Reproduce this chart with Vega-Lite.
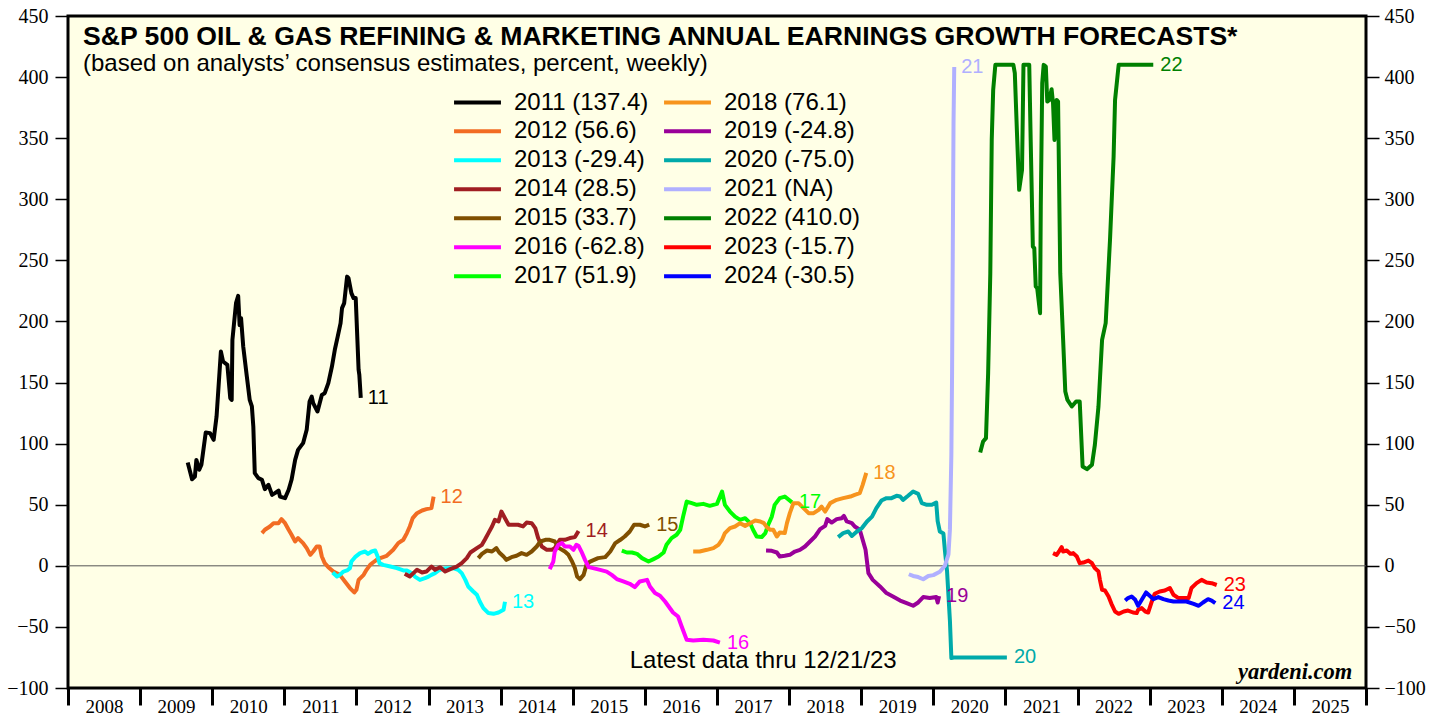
{
  "$schema": "https://vega.github.io/schema/vega-lite/v6.json",
  "width": 1298,
  "height": 672,
  "autosize": {"type": "none"},
  "padding": {"left": 68, "top": 16, "right": 73, "bottom": 29},
  "background": "#FFFFFF",
  "config": {
    "view": {"fill": "#FFFFE6", "stroke": "#000000", "strokeWidth": 3},
    "font": "Liberation Sans"
  },
  "title": {
    "text": "S&P 500 OIL & GAS REFINING & MARKETING ANNUAL EARNINGS GROWTH FORECASTS*",
    "subtitle": "(based on analysts’ consensus estimates, percent, weekly)",
    "anchor": "start", "frame": "group", "orient": "top", "offset": -70, "dx": 15,
    "font": "Liberation Sans", "fontSize": 26.6, "fontWeight": "bold", "color": "#000000",
    "subtitleFont": "Liberation Sans", "subtitleFontSize": 24, "subtitleColor": "#000000", "subtitlePadding": 1
  },
  "datasets": {
    "d": [
{"s":"2011 (137.4)","t":2009.66,"v":84.5},{"s":"2011 (137.4)","t":2009.72,"v":70.9},{"s":"2011 (137.4)","t":2009.76,"v":73.1},{"s":"2011 (137.4)","t":2009.78,"v":86.7},{"s":"2011 (137.4)","t":2009.82,"v":78.6},{"s":"2011 (137.4)","t":2009.85,"v":82.7},{"s":"2011 (137.4)","t":2009.91,"v":109.1},{"s":"2011 (137.4)","t":2009.97,"v":108.6},{"s":"2011 (137.4)","t":2010.02,"v":103.1},{"s":"2011 (137.4)","t":2010.06,"v":122.2},{"s":"2011 (137.4)","t":2010.12,"v":175.4},{"s":"2011 (137.4)","t":2010.15,"v":167.2},{"s":"2011 (137.4)","t":2010.21,"v":164.5},{"s":"2011 (137.4)","t":2010.25,"v":137.2},{"s":"2011 (137.4)","t":2010.27,"v":135.8},{"s":"2011 (137.4)","t":2010.28,"v":184.9},{"s":"2011 (137.4)","t":2010.33,"v":215},{"s":"2011 (137.4)","t":2010.36,"v":221},{"s":"2011 (137.4)","t":2010.38,"v":197},{"s":"2011 (137.4)","t":2010.40,"v":202.7},{"s":"2011 (137.4)","t":2010.43,"v":179.5},{"s":"2011 (137.4)","t":2010.48,"v":154.9},{"s":"2011 (137.4)","t":2010.52,"v":135.8},{"s":"2011 (137.4)","t":2010.55,"v":130.4},{"s":"2011 (137.4)","t":2010.57,"v":114},{"s":"2011 (137.4)","t":2010.59,"v":75.9},{"s":"2011 (137.4)","t":2010.64,"v":71.8},{"s":"2011 (137.4)","t":2010.69,"v":70.4},{"s":"2011 (137.4)","t":2010.73,"v":62.8},{"s":"2011 (137.4)","t":2010.78,"v":66.3},{"s":"2011 (137.4)","t":2010.83,"v":58.1},{"s":"2011 (137.4)","t":2010.87,"v":59.5},{"s":"2011 (137.4)","t":2010.92,"v":61.6},{"s":"2011 (137.4)","t":2010.94,"v":56.7},{"s":"2011 (137.4)","t":2011.01,"v":55.4},{"s":"2011 (137.4)","t":2011.06,"v":62.2},{"s":"2011 (137.4)","t":2011.10,"v":70.4},{"s":"2011 (137.4)","t":2011.15,"v":86.7},{"s":"2011 (137.4)","t":2011.19,"v":94.9},{"s":"2011 (137.4)","t":2011.26,"v":100.4},{"s":"2011 (137.4)","t":2011.31,"v":111.3},{"s":"2011 (137.4)","t":2011.35,"v":134.5},{"s":"2011 (137.4)","t":2011.38,"v":138.5},{"s":"2011 (137.4)","t":2011.40,"v":133.1},{"s":"2011 (137.4)","t":2011.46,"v":126.3},{"s":"2011 (137.4)","t":2011.52,"v":139.9},{"s":"2011 (137.4)","t":2011.56,"v":141.3},{"s":"2011 (137.4)","t":2011.61,"v":149.5},{"s":"2011 (137.4)","t":2011.66,"v":163.1},{"s":"2011 (137.4)","t":2011.70,"v":176.8},{"s":"2011 (137.4)","t":2011.74,"v":187.6},{"s":"2011 (137.4)","t":2011.78,"v":198.6},{"s":"2011 (137.4)","t":2011.80,"v":210.9},{"s":"2011 (137.4)","t":2011.83,"v":215},{"s":"2011 (137.4)","t":2011.87,"v":236.7},{"s":"2011 (137.4)","t":2011.89,"v":235.4},{"s":"2011 (137.4)","t":2011.93,"v":223.2},{"s":"2011 (137.4)","t":2011.96,"v":219.1},{"s":"2011 (137.4)","t":2011.99,"v":219.1},{"s":"2011 (137.4)","t":2012.03,"v":160.4},{"s":"2011 (137.4)","t":2012.04,"v":156.3},{"s":"2011 (137.4)","t":2012.06,"v":137.4},
{"s":"2012 (56.6)","t":2010.69,"v":26.8},{"s":"2012 (56.6)","t":2010.73,"v":29.5},{"s":"2012 (56.6)","t":2010.80,"v":32.2},{"s":"2012 (56.6)","t":2010.85,"v":34.9},{"s":"2012 (56.6)","t":2010.92,"v":34.9},{"s":"2012 (56.6)","t":2010.96,"v":38.2},{"s":"2012 (56.6)","t":2011.01,"v":34.9},{"s":"2012 (56.6)","t":2011.06,"v":29.5},{"s":"2012 (56.6)","t":2011.10,"v":25.4},{"s":"2012 (56.6)","t":2011.15,"v":19.9},{"s":"2012 (56.6)","t":2011.19,"v":22.7},{"s":"2012 (56.6)","t":2011.26,"v":18.6},{"s":"2012 (56.6)","t":2011.31,"v":14.5},{"s":"2012 (56.6)","t":2011.36,"v":9},{"s":"2012 (56.6)","t":2011.40,"v":11.7},{"s":"2012 (56.6)","t":2011.45,"v":15.8},{"s":"2012 (56.6)","t":2011.49,"v":15.8},{"s":"2012 (56.6)","t":2011.52,"v":7.6},{"s":"2012 (56.6)","t":2011.56,"v":2.2},{"s":"2012 (56.6)","t":2011.61,"v":-1.1},{"s":"2012 (56.6)","t":2011.68,"v":-4.7},{"s":"2012 (56.6)","t":2011.77,"v":-7.4},{"s":"2012 (56.6)","t":2011.84,"v":-12.8},{"s":"2012 (56.6)","t":2011.91,"v":-18.2},{"s":"2012 (56.6)","t":2011.97,"v":-21.8},{"s":"2012 (56.6)","t":2012.00,"v":-19.6},{"s":"2012 (56.6)","t":2012.03,"v":-11.5},{"s":"2012 (56.6)","t":2012.10,"v":-7.4},{"s":"2012 (56.6)","t":2012.14,"v":-3.3},{"s":"2012 (56.6)","t":2012.19,"v":0.8},{"s":"2012 (56.6)","t":2012.23,"v":2.7},{"s":"2012 (56.6)","t":2012.28,"v":4.9},{"s":"2012 (56.6)","t":2012.33,"v":6.3},{"s":"2012 (56.6)","t":2012.42,"v":8.2},{"s":"2012 (56.6)","t":2012.51,"v":13.1},{"s":"2012 (56.6)","t":2012.58,"v":18.6},{"s":"2012 (56.6)","t":2012.65,"v":21.3},{"s":"2012 (56.6)","t":2012.70,"v":26.8},{"s":"2012 (56.6)","t":2012.74,"v":32.2},{"s":"2012 (56.6)","t":2012.78,"v":39},{"s":"2012 (56.6)","t":2012.84,"v":43.1},{"s":"2012 (56.6)","t":2012.91,"v":45.3},{"s":"2012 (56.6)","t":2012.97,"v":46.4},{"s":"2012 (56.6)","t":2013.04,"v":47.2},{"s":"2012 (56.6)","t":2013.07,"v":56.6},
{"s":"2013 (-29.4)","t":2011.67,"v":-5.5},{"s":"2013 (-29.4)","t":2011.73,"v":-8.8},{"s":"2013 (-29.4)","t":2011.77,"v":-7.4},{"s":"2013 (-29.4)","t":2011.82,"v":-4.7},{"s":"2013 (-29.4)","t":2011.87,"v":-3.8},{"s":"2013 (-29.4)","t":2011.91,"v":-1.9},{"s":"2013 (-29.4)","t":2011.93,"v":3.5},{"s":"2013 (-29.4)","t":2011.98,"v":7.1},{"s":"2013 (-29.4)","t":2012.05,"v":10.4},{"s":"2013 (-29.4)","t":2012.12,"v":11.7},{"s":"2013 (-29.4)","t":2012.16,"v":9.8},{"s":"2013 (-29.4)","t":2012.21,"v":11.7},{"s":"2013 (-29.4)","t":2012.26,"v":12.5},{"s":"2013 (-29.4)","t":2012.29,"v":8.2},{"s":"2013 (-29.4)","t":2012.32,"v":2.2},{"s":"2013 (-29.4)","t":2012.37,"v":0.8},{"s":"2013 (-29.4)","t":2012.47,"v":-0.6},{"s":"2013 (-29.4)","t":2012.56,"v":-1.9},{"s":"2013 (-29.4)","t":2012.65,"v":-3.8},{"s":"2013 (-29.4)","t":2012.70,"v":-3.8},{"s":"2013 (-29.4)","t":2012.77,"v":-6},{"s":"2013 (-29.4)","t":2012.81,"v":-8.8},{"s":"2013 (-29.4)","t":2012.88,"v":-11.5},{"s":"2013 (-29.4)","t":2012.95,"v":-10.1},{"s":"2013 (-29.4)","t":2013.00,"v":-8.8},{"s":"2013 (-29.4)","t":2013.04,"v":-7.4},{"s":"2013 (-29.4)","t":2013.09,"v":-6},{"s":"2013 (-29.4)","t":2013.14,"v":-3.8},{"s":"2013 (-29.4)","t":2013.18,"v":-2.7},{"s":"2013 (-29.4)","t":2013.25,"v":-1.9},{"s":"2013 (-29.4)","t":2013.34,"v":-1.9},{"s":"2013 (-29.4)","t":2013.41,"v":-3.3},{"s":"2013 (-29.4)","t":2013.46,"v":-6},{"s":"2013 (-29.4)","t":2013.51,"v":-11.5},{"s":"2013 (-29.4)","t":2013.55,"v":-16.9},{"s":"2013 (-29.4)","t":2013.62,"v":-21},{"s":"2013 (-29.4)","t":2013.67,"v":-23.7},{"s":"2013 (-29.4)","t":2013.71,"v":-29.2},{"s":"2013 (-29.4)","t":2013.76,"v":-34.6},{"s":"2013 (-29.4)","t":2013.83,"v":-38.7},{"s":"2013 (-29.4)","t":2013.90,"v":-39.3},{"s":"2013 (-29.4)","t":2013.97,"v":-38.2},{"s":"2013 (-29.4)","t":2014.04,"v":-36},{"s":"2013 (-29.4)","t":2014.06,"v":-29.4},
{"s":"2014 (28.5)","t":2012.67,"v":-6.5},{"s":"2014 (28.5)","t":2012.74,"v":-8.8},{"s":"2014 (28.5)","t":2012.79,"v":-6},{"s":"2014 (28.5)","t":2012.84,"v":-3.3},{"s":"2014 (28.5)","t":2012.91,"v":-5.5},{"s":"2014 (28.5)","t":2012.97,"v":-4.7},{"s":"2014 (28.5)","t":2013.04,"v":-0.6},{"s":"2014 (28.5)","t":2013.09,"v":-3.3},{"s":"2014 (28.5)","t":2013.16,"v":-1.1},{"s":"2014 (28.5)","t":2013.23,"v":-4.7},{"s":"2014 (28.5)","t":2013.30,"v":-2.7},{"s":"2014 (28.5)","t":2013.39,"v":-0.6},{"s":"2014 (28.5)","t":2013.46,"v":2.2},{"s":"2014 (28.5)","t":2013.53,"v":6.3},{"s":"2014 (28.5)","t":2013.58,"v":10.9},{"s":"2014 (28.5)","t":2013.67,"v":14.5},{"s":"2014 (28.5)","t":2013.74,"v":17.2},{"s":"2014 (28.5)","t":2013.78,"v":21.3},{"s":"2014 (28.5)","t":2013.83,"v":26.8},{"s":"2014 (28.5)","t":2013.88,"v":32.2},{"s":"2014 (28.5)","t":2013.92,"v":37.6},{"s":"2014 (28.5)","t":2013.97,"v":36.3},{"s":"2014 (28.5)","t":2014.01,"v":44.4},{"s":"2014 (28.5)","t":2014.06,"v":39},{"s":"2014 (28.5)","t":2014.11,"v":33.6},{"s":"2014 (28.5)","t":2014.18,"v":33.6},{"s":"2014 (28.5)","t":2014.24,"v":33.6},{"s":"2014 (28.5)","t":2014.31,"v":32.2},{"s":"2014 (28.5)","t":2014.36,"v":35.4},{"s":"2014 (28.5)","t":2014.43,"v":34.9},{"s":"2014 (28.5)","t":2014.48,"v":30.9},{"s":"2014 (28.5)","t":2014.52,"v":22.7},{"s":"2014 (28.5)","t":2014.57,"v":15.8},{"s":"2014 (28.5)","t":2014.64,"v":13.1},{"s":"2014 (28.5)","t":2014.71,"v":13.1},{"s":"2014 (28.5)","t":2014.75,"v":14.5},{"s":"2014 (28.5)","t":2014.82,"v":21.3},{"s":"2014 (28.5)","t":2014.89,"v":21.3},{"s":"2014 (28.5)","t":2014.96,"v":22.7},{"s":"2014 (28.5)","t":2015.03,"v":23.5},{"s":"2014 (28.5)","t":2015.08,"v":28.5},
{"s":"2015 (33.7)","t":2013.69,"v":6.3},{"s":"2015 (33.7)","t":2013.74,"v":9.8},{"s":"2015 (33.7)","t":2013.81,"v":12.5},{"s":"2015 (33.7)","t":2013.88,"v":11.7},{"s":"2015 (33.7)","t":2013.94,"v":14.5},{"s":"2015 (33.7)","t":2013.98,"v":10.9},{"s":"2015 (33.7)","t":2014.04,"v":7.6},{"s":"2015 (33.7)","t":2014.08,"v":4.9},{"s":"2015 (33.7)","t":2014.15,"v":7.1},{"s":"2015 (33.7)","t":2014.22,"v":8.2},{"s":"2015 (33.7)","t":2014.29,"v":10.4},{"s":"2015 (33.7)","t":2014.36,"v":9},{"s":"2015 (33.7)","t":2014.43,"v":11.7},{"s":"2015 (33.7)","t":2014.50,"v":15.8},{"s":"2015 (33.7)","t":2014.55,"v":19.9},{"s":"2015 (33.7)","t":2014.62,"v":21.3},{"s":"2015 (33.7)","t":2014.68,"v":21.3},{"s":"2015 (33.7)","t":2014.75,"v":19.9},{"s":"2015 (33.7)","t":2014.81,"v":14.5},{"s":"2015 (33.7)","t":2014.89,"v":11.7},{"s":"2015 (33.7)","t":2014.94,"v":9},{"s":"2015 (33.7)","t":2014.99,"v":3.5},{"s":"2015 (33.7)","t":2015.03,"v":-1.9},{"s":"2015 (33.7)","t":2015.06,"v":-8.8},{"s":"2015 (33.7)","t":2015.10,"v":-10.9},{"s":"2015 (33.7)","t":2015.15,"v":-7.4},{"s":"2015 (33.7)","t":2015.19,"v":0.8},{"s":"2015 (33.7)","t":2015.24,"v":3.5},{"s":"2015 (33.7)","t":2015.35,"v":6.3},{"s":"2015 (33.7)","t":2015.45,"v":7.1},{"s":"2015 (33.7)","t":2015.52,"v":11.7},{"s":"2015 (33.7)","t":2015.59,"v":18.6},{"s":"2015 (33.7)","t":2015.66,"v":21.3},{"s":"2015 (33.7)","t":2015.72,"v":24},{"s":"2015 (33.7)","t":2015.79,"v":28.1},{"s":"2015 (33.7)","t":2015.85,"v":33.6},{"s":"2015 (33.7)","t":2015.93,"v":33.6},{"s":"2015 (33.7)","t":2016.00,"v":32.2},{"s":"2015 (33.7)","t":2016.06,"v":33.7},
{"s":"2016 (-62.8)","t":2014.68,"v":-2.7},{"s":"2016 (-62.8)","t":2014.73,"v":3.5},{"s":"2016 (-62.8)","t":2014.75,"v":11.7},{"s":"2016 (-62.8)","t":2014.80,"v":17.2},{"s":"2016 (-62.8)","t":2014.85,"v":18.6},{"s":"2016 (-62.8)","t":2014.89,"v":15.8},{"s":"2016 (-62.8)","t":2014.96,"v":15.8},{"s":"2016 (-62.8)","t":2015.01,"v":13.1},{"s":"2016 (-62.8)","t":2015.05,"v":17.2},{"s":"2016 (-62.8)","t":2015.08,"v":16.4},{"s":"2016 (-62.8)","t":2015.12,"v":11.7},{"s":"2016 (-62.8)","t":2015.17,"v":4.9},{"s":"2016 (-62.8)","t":2015.22,"v":-1.1},{"s":"2016 (-62.8)","t":2015.28,"v":-1.9},{"s":"2016 (-62.8)","t":2015.38,"v":-3.3},{"s":"2016 (-62.8)","t":2015.47,"v":-4.7},{"s":"2016 (-62.8)","t":2015.54,"v":-7.4},{"s":"2016 (-62.8)","t":2015.61,"v":-10.8},{"s":"2016 (-62.8)","t":2015.70,"v":-12.8},{"s":"2016 (-62.8)","t":2015.79,"v":-14.7},{"s":"2016 (-62.8)","t":2015.86,"v":-17.4},{"s":"2016 (-62.8)","t":2015.93,"v":-12.8},{"s":"2016 (-62.8)","t":2016.03,"v":-11.5},{"s":"2016 (-62.8)","t":2016.07,"v":-16.9},{"s":"2016 (-62.8)","t":2016.14,"v":-22.3},{"s":"2016 (-62.8)","t":2016.21,"v":-24.5},{"s":"2016 (-62.8)","t":2016.28,"v":-29.2},{"s":"2016 (-62.8)","t":2016.33,"v":-33.3},{"s":"2016 (-62.8)","t":2016.39,"v":-38.2},{"s":"2016 (-62.8)","t":2016.46,"v":-41.5},{"s":"2016 (-62.8)","t":2016.51,"v":-49.7},{"s":"2016 (-62.8)","t":2016.58,"v":-60.6},{"s":"2016 (-62.8)","t":2016.67,"v":-61.1},{"s":"2016 (-62.8)","t":2016.81,"v":-60.6},{"s":"2016 (-62.8)","t":2016.95,"v":-61.1},{"s":"2016 (-62.8)","t":2017.04,"v":-62.8},
{"s":"2017 (51.9)","t":2015.68,"v":12.5},{"s":"2017 (51.9)","t":2015.75,"v":10.9},{"s":"2017 (51.9)","t":2015.82,"v":10.9},{"s":"2017 (51.9)","t":2015.89,"v":9.8},{"s":"2017 (51.9)","t":2015.96,"v":6.3},{"s":"2017 (51.9)","t":2016.05,"v":3.5},{"s":"2017 (51.9)","t":2016.12,"v":5.5},{"s":"2017 (51.9)","t":2016.19,"v":7.6},{"s":"2017 (51.9)","t":2016.26,"v":10.9},{"s":"2017 (51.9)","t":2016.30,"v":17.2},{"s":"2017 (51.9)","t":2016.37,"v":22.7},{"s":"2017 (51.9)","t":2016.44,"v":25.4},{"s":"2017 (51.9)","t":2016.49,"v":29.5},{"s":"2017 (51.9)","t":2016.53,"v":40.3},{"s":"2017 (51.9)","t":2016.58,"v":52.6},{"s":"2017 (51.9)","t":2016.65,"v":51.3},{"s":"2017 (51.9)","t":2016.72,"v":49.9},{"s":"2017 (51.9)","t":2016.81,"v":50.7},{"s":"2017 (51.9)","t":2016.90,"v":49.1},{"s":"2017 (51.9)","t":2017.00,"v":50.7},{"s":"2017 (51.9)","t":2017.07,"v":60.8},{"s":"2017 (51.9)","t":2017.11,"v":49.9},{"s":"2017 (51.9)","t":2017.18,"v":44.4},{"s":"2017 (51.9)","t":2017.25,"v":40.3},{"s":"2017 (51.9)","t":2017.32,"v":37.6},{"s":"2017 (51.9)","t":2017.39,"v":39},{"s":"2017 (51.9)","t":2017.46,"v":34.9},{"s":"2017 (51.9)","t":2017.50,"v":29.5},{"s":"2017 (51.9)","t":2017.55,"v":24},{"s":"2017 (51.9)","t":2017.62,"v":23.5},{"s":"2017 (51.9)","t":2017.67,"v":26.8},{"s":"2017 (51.9)","t":2017.71,"v":33.6},{"s":"2017 (51.9)","t":2017.76,"v":40.3},{"s":"2017 (51.9)","t":2017.80,"v":49.9},{"s":"2017 (51.9)","t":2017.87,"v":55.4},{"s":"2017 (51.9)","t":2017.94,"v":56.7},{"s":"2017 (51.9)","t":2018.04,"v":51.9},
{"s":"2018 (76.1)","t":2016.67,"v":11.7},{"s":"2018 (76.1)","t":2016.76,"v":11.7},{"s":"2018 (76.1)","t":2016.86,"v":13.1},{"s":"2018 (76.1)","t":2016.95,"v":14.5},{"s":"2018 (76.1)","t":2017.02,"v":17.2},{"s":"2018 (76.1)","t":2017.07,"v":21.3},{"s":"2018 (76.1)","t":2017.11,"v":26.8},{"s":"2018 (76.1)","t":2017.18,"v":30.9},{"s":"2018 (76.1)","t":2017.25,"v":32.2},{"s":"2018 (76.1)","t":2017.32,"v":34.9},{"s":"2018 (76.1)","t":2017.39,"v":32.7},{"s":"2018 (76.1)","t":2017.46,"v":34.9},{"s":"2018 (76.1)","t":2017.53,"v":37.1},{"s":"2018 (76.1)","t":2017.60,"v":36.3},{"s":"2018 (76.1)","t":2017.65,"v":34.9},{"s":"2018 (76.1)","t":2017.69,"v":31.7},{"s":"2018 (76.1)","t":2017.74,"v":29.5},{"s":"2018 (76.1)","t":2017.78,"v":29.5},{"s":"2018 (76.1)","t":2017.83,"v":24},{"s":"2018 (76.1)","t":2017.87,"v":27.3},{"s":"2018 (76.1)","t":2017.94,"v":26.8},{"s":"2018 (76.1)","t":2017.97,"v":34.9},{"s":"2018 (76.1)","t":2018.01,"v":43.1},{"s":"2018 (76.1)","t":2018.06,"v":51.3},{"s":"2018 (76.1)","t":2018.13,"v":51.3},{"s":"2018 (76.1)","t":2018.20,"v":47.2},{"s":"2018 (76.1)","t":2018.27,"v":43.1},{"s":"2018 (76.1)","t":2018.34,"v":43.1},{"s":"2018 (76.1)","t":2018.41,"v":45.8},{"s":"2018 (76.1)","t":2018.45,"v":48.5},{"s":"2018 (76.1)","t":2018.50,"v":44.4},{"s":"2018 (76.1)","t":2018.57,"v":51.3},{"s":"2018 (76.1)","t":2018.66,"v":54},{"s":"2018 (76.1)","t":2018.75,"v":55.4},{"s":"2018 (76.1)","t":2018.85,"v":56.7},{"s":"2018 (76.1)","t":2018.91,"v":58.1},{"s":"2018 (76.1)","t":2018.98,"v":59.5},{"s":"2018 (76.1)","t":2019.02,"v":66.3},{"s":"2018 (76.1)","t":2019.07,"v":76.1},
{"s":"2019 (-24.8)","t":2017.68,"v":12.5},{"s":"2019 (-24.8)","t":2017.76,"v":12.3},{"s":"2019 (-24.8)","t":2017.83,"v":10.9},{"s":"2019 (-24.8)","t":2017.87,"v":7.6},{"s":"2019 (-24.8)","t":2017.94,"v":8.2},{"s":"2019 (-24.8)","t":2018.01,"v":9},{"s":"2019 (-24.8)","t":2018.08,"v":11.7},{"s":"2019 (-24.8)","t":2018.15,"v":13.1},{"s":"2019 (-24.8)","t":2018.22,"v":15.8},{"s":"2019 (-24.8)","t":2018.29,"v":19.9},{"s":"2019 (-24.8)","t":2018.36,"v":24},{"s":"2019 (-24.8)","t":2018.43,"v":30},{"s":"2019 (-24.8)","t":2018.50,"v":32.7},{"s":"2019 (-24.8)","t":2018.53,"v":38.2},{"s":"2019 (-24.8)","t":2018.59,"v":35.4},{"s":"2019 (-24.8)","t":2018.66,"v":38.2},{"s":"2019 (-24.8)","t":2018.73,"v":39},{"s":"2019 (-24.8)","t":2018.76,"v":40.9},{"s":"2019 (-24.8)","t":2018.80,"v":36.3},{"s":"2019 (-24.8)","t":2018.87,"v":34.9},{"s":"2019 (-24.8)","t":2018.91,"v":32.2},{"s":"2019 (-24.8)","t":2018.98,"v":29.5},{"s":"2019 (-24.8)","t":2019.06,"v":13.1},{"s":"2019 (-24.8)","t":2019.10,"v":-6},{"s":"2019 (-24.8)","t":2019.16,"v":-11.5},{"s":"2019 (-24.8)","t":2019.26,"v":-16.9},{"s":"2019 (-24.8)","t":2019.35,"v":-22.3},{"s":"2019 (-24.8)","t":2019.44,"v":-25.1},{"s":"2019 (-24.8)","t":2019.54,"v":-28.4},{"s":"2019 (-24.8)","t":2019.63,"v":-30.5},{"s":"2019 (-24.8)","t":2019.72,"v":-32.7},{"s":"2019 (-24.8)","t":2019.79,"v":-30},{"s":"2019 (-24.8)","t":2019.86,"v":-25.6},{"s":"2019 (-24.8)","t":2019.95,"v":-26.4},{"s":"2019 (-24.8)","t":2020.04,"v":-25.6},{"s":"2019 (-24.8)","t":2020.06,"v":-30},{"s":"2019 (-24.8)","t":2020.08,"v":-24.8},
{"s":"2020 (-75.0)","t":2018.68,"v":23.5},{"s":"2020 (-75.0)","t":2018.75,"v":26.8},{"s":"2020 (-75.0)","t":2018.82,"v":28.1},{"s":"2020 (-75.0)","t":2018.87,"v":24.5},{"s":"2020 (-75.0)","t":2018.94,"v":28.1},{"s":"2020 (-75.0)","t":2019.01,"v":30.9},{"s":"2020 (-75.0)","t":2019.08,"v":36.3},{"s":"2020 (-75.0)","t":2019.15,"v":40.3},{"s":"2020 (-75.0)","t":2019.21,"v":47.2},{"s":"2020 (-75.0)","t":2019.28,"v":53.4},{"s":"2020 (-75.0)","t":2019.35,"v":55.4},{"s":"2020 (-75.0)","t":2019.42,"v":55.4},{"s":"2020 (-75.0)","t":2019.49,"v":57.3},{"s":"2020 (-75.0)","t":2019.54,"v":56.7},{"s":"2020 (-75.0)","t":2019.58,"v":54},{"s":"2020 (-75.0)","t":2019.65,"v":57.3},{"s":"2020 (-75.0)","t":2019.72,"v":60.8},{"s":"2020 (-75.0)","t":2019.79,"v":58.9},{"s":"2020 (-75.0)","t":2019.84,"v":51.3},{"s":"2020 (-75.0)","t":2019.91,"v":49.9},{"s":"2020 (-75.0)","t":2019.98,"v":49.9},{"s":"2020 (-75.0)","t":2020.04,"v":51.8},{"s":"2020 (-75.0)","t":2020.06,"v":36.6},{"s":"2020 (-75.0)","t":2020.09,"v":28.1},{"s":"2020 (-75.0)","t":2020.14,"v":26.4},{"s":"2020 (-75.0)","t":2020.16,"v":12.8},{"s":"2020 (-75.0)","t":2020.19,"v":-4.2},{"s":"2020 (-75.0)","t":2020.23,"v":-44.9},{"s":"2020 (-75.0)","t":2020.25,"v":-75.5},{"s":"2020 (-75.0)","t":2020.28,"v":-75},{"s":"2020 (-75.0)","t":2021.02,"v":-75},
{"s":"2021 (NA)","t":2019.66,"v":-6.9},{"s":"2021 (NA)","t":2019.72,"v":-8.3},{"s":"2021 (NA)","t":2019.79,"v":-9.2},{"s":"2021 (NA)","t":2019.86,"v":-11},{"s":"2021 (NA)","t":2019.93,"v":-8.3},{"s":"2021 (NA)","t":2020.00,"v":-7.6},{"s":"2021 (NA)","t":2020.09,"v":-4.9},{"s":"2021 (NA)","t":2020.16,"v":0},{"s":"2021 (NA)","t":2020.21,"v":9.4},{"s":"2021 (NA)","t":2020.23,"v":29.8},{"s":"2021 (NA)","t":2020.25,"v":90.9},{"s":"2021 (NA)","t":2020.26,"v":158.8},{"s":"2021 (NA)","t":2020.27,"v":260.6},{"s":"2021 (NA)","t":2020.28,"v":362.5},{"s":"2021 (NA)","t":2020.29,"v":408.3},
{"s":"2022 (410.0)","t":2020.65,"v":92.7},{"s":"2022 (410.0)","t":2020.69,"v":101.7},{"s":"2022 (410.0)","t":2020.73,"v":104.5},{"s":"2022 (410.0)","t":2020.76,"v":157.7},{"s":"2022 (410.0)","t":2020.79,"v":239.5},{"s":"2022 (410.0)","t":2020.81,"v":348.6},{"s":"2022 (410.0)","t":2020.83,"v":389.5},{"s":"2022 (410.0)","t":2020.86,"v":410},{"s":"2022 (410.0)","t":2021.11,"v":410},{"s":"2022 (410.0)","t":2021.13,"v":403.2},{"s":"2022 (410.0)","t":2021.16,"v":354.1},{"s":"2022 (410.0)","t":2021.19,"v":307.7},{"s":"2022 (410.0)","t":2021.23,"v":324},{"s":"2022 (410.0)","t":2021.25,"v":410},{"s":"2022 (410.0)","t":2021.33,"v":410},{"s":"2022 (410.0)","t":2021.35,"v":348.6},{"s":"2022 (410.0)","t":2021.38,"v":261.3},{"s":"2022 (410.0)","t":2021.40,"v":260},{"s":"2022 (410.0)","t":2021.42,"v":228.6},{"s":"2022 (410.0)","t":2021.44,"v":227.3},{"s":"2022 (410.0)","t":2021.48,"v":206.8},{"s":"2022 (410.0)","t":2021.49,"v":294},{"s":"2022 (410.0)","t":2021.51,"v":395},{"s":"2022 (410.0)","t":2021.53,"v":410},{"s":"2022 (410.0)","t":2021.56,"v":408.6},{"s":"2022 (410.0)","t":2021.58,"v":380},{"s":"2022 (410.0)","t":2021.61,"v":381.3},{"s":"2022 (410.0)","t":2021.64,"v":390.1},{"s":"2022 (410.0)","t":2021.66,"v":378.6},{"s":"2022 (410.0)","t":2021.68,"v":348.6},{"s":"2022 (410.0)","t":2021.71,"v":381.3},{"s":"2022 (410.0)","t":2021.73,"v":380},{"s":"2022 (410.0)","t":2021.76,"v":239.5},{"s":"2022 (410.0)","t":2021.80,"v":184.9},{"s":"2022 (410.0)","t":2021.83,"v":142.6},{"s":"2022 (410.0)","t":2021.86,"v":135.8},{"s":"2022 (410.0)","t":2021.92,"v":130.4},{"s":"2022 (410.0)","t":2021.98,"v":134.5},{"s":"2022 (410.0)","t":2022.03,"v":134.5},{"s":"2022 (410.0)","t":2022.07,"v":81.3},{"s":"2022 (410.0)","t":2022.13,"v":79.1},{"s":"2022 (410.0)","t":2022.20,"v":82.7},{"s":"2022 (410.0)","t":2022.24,"v":99},{"s":"2022 (410.0)","t":2022.29,"v":130.4},{"s":"2022 (410.0)","t":2022.34,"v":184.9},{"s":"2022 (410.0)","t":2022.39,"v":198.6},{"s":"2022 (410.0)","t":2022.45,"v":266.8},{"s":"2022 (410.0)","t":2022.50,"v":335},{"s":"2022 (410.0)","t":2022.52,"v":381.3},{"s":"2022 (410.0)","t":2022.57,"v":410},{"s":"2022 (410.0)","t":2023.05,"v":410},
{"s":"2023 (-15.7)","t":2021.66,"v":10.4},{"s":"2023 (-15.7)","t":2021.71,"v":9},{"s":"2023 (-15.7)","t":2021.75,"v":12.5},{"s":"2023 (-15.7)","t":2021.78,"v":15.3},{"s":"2023 (-15.7)","t":2021.80,"v":11.7},{"s":"2023 (-15.7)","t":2021.85,"v":12.5},{"s":"2023 (-15.7)","t":2021.90,"v":9.8},{"s":"2023 (-15.7)","t":2021.94,"v":10.4},{"s":"2023 (-15.7)","t":2021.99,"v":7.6},{"s":"2023 (-15.7)","t":2022.03,"v":2.2},{"s":"2023 (-15.7)","t":2022.08,"v":2.7},{"s":"2023 (-15.7)","t":2022.15,"v":4.3},{"s":"2023 (-15.7)","t":2022.20,"v":2.2},{"s":"2023 (-15.7)","t":2022.24,"v":-1.9},{"s":"2023 (-15.7)","t":2022.29,"v":-4.7},{"s":"2023 (-15.7)","t":2022.31,"v":-11.5},{"s":"2023 (-15.7)","t":2022.34,"v":-19.6},{"s":"2023 (-15.7)","t":2022.38,"v":-20.2},{"s":"2023 (-15.7)","t":2022.43,"v":-25.1},{"s":"2023 (-15.7)","t":2022.47,"v":-31.1},{"s":"2023 (-15.7)","t":2022.52,"v":-37.4},{"s":"2023 (-15.7)","t":2022.57,"v":-39.3},{"s":"2023 (-15.7)","t":2022.64,"v":-37.4},{"s":"2023 (-15.7)","t":2022.70,"v":-36.6},{"s":"2023 (-15.7)","t":2022.77,"v":-38.2},{"s":"2023 (-15.7)","t":2022.82,"v":-38.7},{"s":"2023 (-15.7)","t":2022.84,"v":-36},{"s":"2023 (-15.7)","t":2022.89,"v":-34.6},{"s":"2023 (-15.7)","t":2022.94,"v":-37.4},{"s":"2023 (-15.7)","t":2022.98,"v":-38.2},{"s":"2023 (-15.7)","t":2023.03,"v":-29.2},{"s":"2023 (-15.7)","t":2023.07,"v":-22.9},{"s":"2023 (-15.7)","t":2023.14,"v":-21},{"s":"2023 (-15.7)","t":2023.21,"v":-20.2},{"s":"2023 (-15.7)","t":2023.28,"v":-18.2},{"s":"2023 (-15.7)","t":2023.33,"v":-23.7},{"s":"2023 (-15.7)","t":2023.40,"v":-26.4},{"s":"2023 (-15.7)","t":2023.47,"v":-26.4},{"s":"2023 (-15.7)","t":2023.54,"v":-26.4},{"s":"2023 (-15.7)","t":2023.58,"v":-18.2},{"s":"2023 (-15.7)","t":2023.65,"v":-14.2},{"s":"2023 (-15.7)","t":2023.72,"v":-11.5},{"s":"2023 (-15.7)","t":2023.79,"v":-13.7},{"s":"2023 (-15.7)","t":2023.86,"v":-14.2},{"s":"2023 (-15.7)","t":2023.93,"v":-15.7},
{"s":"2024 (-30.5)","t":2022.66,"v":-28.4},{"s":"2024 (-30.5)","t":2022.70,"v":-26.4},{"s":"2024 (-30.5)","t":2022.75,"v":-25.1},{"s":"2024 (-30.5)","t":2022.80,"v":-27.8},{"s":"2024 (-30.5)","t":2022.84,"v":-32.7},{"s":"2024 (-30.5)","t":2022.89,"v":-27.8},{"s":"2024 (-30.5)","t":2022.95,"v":-21.8},{"s":"2024 (-30.5)","t":2023.00,"v":-24.5},{"s":"2024 (-30.5)","t":2023.05,"v":-27.3},{"s":"2024 (-30.5)","t":2023.12,"v":-25.6},{"s":"2024 (-30.5)","t":2023.19,"v":-27.3},{"s":"2024 (-30.5)","t":2023.26,"v":-28.4},{"s":"2024 (-30.5)","t":2023.33,"v":-29.2},{"s":"2024 (-30.5)","t":2023.42,"v":-29.2},{"s":"2024 (-30.5)","t":2023.51,"v":-29.2},{"s":"2024 (-30.5)","t":2023.61,"v":-31.1},{"s":"2024 (-30.5)","t":2023.68,"v":-32.7},{"s":"2024 (-30.5)","t":2023.74,"v":-30},{"s":"2024 (-30.5)","t":2023.81,"v":-27.3},{"s":"2024 (-30.5)","t":2023.86,"v":-28.4},{"s":"2024 (-30.5)","t":2023.91,"v":-30.5}
    ]
  },
  "data": {"name": "d"},
  "resolve": {"scale": {"y": "independent"}, "axis": {"y": "independent"}},
  "layer": [
    {
      "data": {"values": [{}]},
      "mark": {"type": "rule", "color": "#555555", "strokeWidth": 1},
      "encoding": {
        "y": {"datum": 0, "type": "quantitative", "scale": {"domain": [-100, 450], "nice": false, "zero": false}, "axis": null}
      }
    },
    {
      "mark": {"type": "line", "strokeWidth": 4, "strokeJoin": "round", "strokeCap": "butt"},
      "encoding": {
        "x": {
          "field": "t", "type": "quantitative",
          "scale": {"domain": [2008, 2026], "nice": false, "zero": false},
          "axis": {
            "orient": "bottom", "values": [2008,2009,2010,2011,2012,2013,2014,2015,2016,2017,2018,2019,2020,2021,2022,2023,2024,2025,2026],
            "format": "d", "labelExpr": "datum.value < 2026 ? datum.label : ''",
            "tickSize": 17, "tickWidth": 3, "tickColor": "#000000", "domain": false, "grid": false,
            "labelOffset": 36, "labelPadding": -8, "labelBaseline": "top", "labelFont": "Liberation Serif", "labelFontSize": 19, "labelColor": "#000000",
            "labelFlush": false, "labelOverlap": false, "labelBound": false, "title": null
          }
        },
        "y": {
          "field": "v", "type": "quantitative",
          "scale": {"domain": [-100, 450], "nice": false, "zero": false},
          "axis": {
            "orient": "left", "values": [-100,-50,0,50,100,150,200,250,300,350,400,450],
            "tickSize": 13, "tickWidth": 1.5, "tickColor": "#000000", "domain": false, "grid": false,
            "labelPadding": 7, "labelFont": "Liberation Serif", "labelFontSize": 20, "labelColor": "#000000",
            "labelFlush": false, "labelOverlap": false, "labelBound": false, "title": null
          }
        },
        "color": {
          "field": "s", "type": "nominal",
          "scale": {
            "domain": ["2011 (137.4)","2012 (56.6)","2013 (-29.4)","2014 (28.5)","2015 (33.7)","2016 (-62.8)","2017 (51.9)","2018 (76.1)","2019 (-24.8)","2020 (-75.0)","2021 (NA)","2022 (410.0)","2023 (-15.7)","2024 (-30.5)"],
            "range": ["#000000","#F26C23","#00FFFF","#A01E22","#7F4F00","#FF00FF","#00FF00","#F7941D","#990099","#00AAAA","#B0B0FF","#008000","#FF0000","#0000FF"]
          },
          "legend": {
            "orient": "none", "legendX": 384, "legendY": 72, "columns": 2, "columnPadding": 13, "rowPadding": 0, "clipHeight": 28.7,
            "symbolType": "stroke", "symbolSize": 2200, "symbolStrokeWidth": 4,
            "labelFont": "Liberation Sans", "labelFontSize": 24, "labelColor": "#000000", "labelOffset": 11,
            "title": null, "padding": 0
          }
        }
      }
    },
    {
      "transform": [
        {"joinaggregate": [{"op": "max", "field": "t", "as": "tm"}], "groupby": ["s"]},
        {"filter": "datum.t == datum.tm"},
        {"calculate": "substring(datum.s, 2, 4)", "as": "lab"}
      ],
      "mark": {"type": "text", "align": "left", "baseline": "middle", "dx": 7, "fontSize": 20, "font": "Liberation Sans"},
      "encoding": {
        "x": {"field": "t", "type": "quantitative"},
        "y": {
          "field": "v", "type": "quantitative",
          "scale": {"domain": [-100, 450], "nice": false, "zero": false},
          "axis": {
            "orient": "right", "values": [-100,-50,0,50,100,150,200,250,300,350,400,450],
            "tickSize": 13, "tickWidth": 1.5, "tickColor": "#000000", "domain": false, "grid": false,
            "labelPadding": 5, "labelFont": "Liberation Serif", "labelFontSize": 20, "labelColor": "#000000",
            "labelFlush": false, "labelOverlap": false, "labelBound": false, "title": null
          }
        },
        "text": {"field": "lab"},
        "color": {"field": "s", "type": "nominal", "legend": null}
      }
    },
    {
      "data": {"values": [{}]},
      "mark": {"type": "text", "align": "left", "baseline": "middle", "fontSize": 24, "font": "Liberation Sans", "color": "#000000", "text": "Latest data thru 12/21/23"},
      "encoding": {
        "x": {"datum": 2015.79, "type": "quantitative"},
        "y": {"datum": -78.2, "type": "quantitative", "scale": {"domain": [-100, 450], "nice": false, "zero": false}, "axis": null}
      }
    },
    {
      "data": {"values": [{}]},
      "mark": {"type": "text", "align": "right", "baseline": "middle", "fontSize": 22.5, "font": "Liberation Serif", "fontWeight": "bold", "fontStyle": "italic", "color": "#000000", "text": "yardeni.com"},
      "encoding": {
        "x": {"datum": 2025.81, "type": "quantitative"},
        "y": {"datum": -87, "type": "quantitative", "scale": {"domain": [-100, 450], "nice": false, "zero": false}, "axis": null}
      }
    }
  ]
}
